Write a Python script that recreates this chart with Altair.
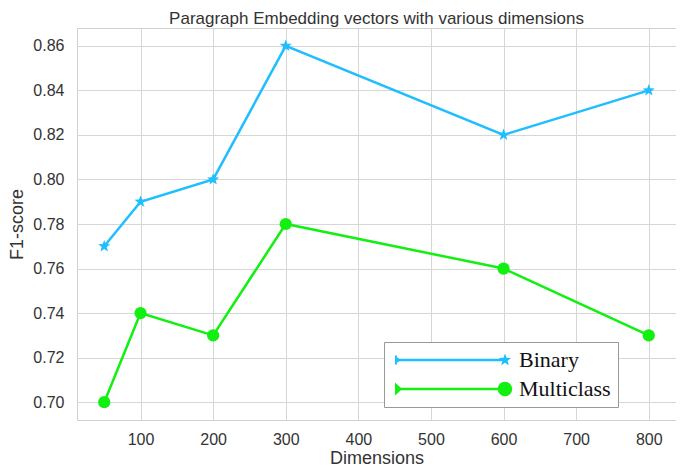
import math
import altair as alt
import pandas as pd

dims = [50, 100, 200, 300, 600, 800]
binary = [0.77, 0.79, 0.80, 0.86, 0.82, 0.84]
multiclass = [0.70, 0.74, 0.73, 0.78, 0.76, 0.73]
series_names = ["Binary", "Multiclass"]
colors = ["#1EBEFF", "#11F011"]
x_ticks = [100, 200, 300, 400, 500, 600, 700, 800]
y_ticks = [0.70, 0.72, 0.74, 0.76, 0.78, 0.80, 0.82, 0.84, 0.86]

rows = []
for d, b, m in zip(dims, binary, multiclass):
    rows.append({"dim": d, "f1": b, "series": "Binary"})
    rows.append({"dim": d, "f1": m, "series": "Multiclass"})
df = pd.DataFrame(rows)


def star(cx=0.0, r=1.0, inner=0.42):
    pts = []
    for i in range(10):
        ang = -math.pi / 2 + i * math.pi / 5
        rr = r if i % 2 == 0 else r * inner
        pts.append((cx + rr * math.cos(ang), rr * math.sin(ang)))
    return "M" + " L".join(f"{x:.3f},{y:.3f}" for x, y in pts) + " Z"


def circle(cx, r):
    return (f"M{cx - r:.3f},0 A{r:.3f},{r:.3f} 0 1,1 {cx + r:.3f},0 "
            f"A{r:.3f},{r:.3f} 0 1,1 {cx - r:.3f},0 Z")


# legend glyph geometry, in units of 8 px (symbol size 256)
L0, L1, LH = -0.875, 12.875, 0.16
bar = f"M{L0},{-LH} L{L1 - 0.3},{-LH} L{L1 - 0.3},{LH} L{L0},{LH} Z"
leg_binary = (bar + f" M{L0},-0.55 L{L0 + 0.25},-0.55 L{L0 + 0.25},-0.3 L{L0 + 0.9},0 "
              f"L{L0 + 0.25},0.3 L{L0 + 0.25},0.55 L{L0},0.55 Z " + star(L1, 0.8))
leg_multi = (bar + f" M{L0},-0.8 L{L0 + 0.9},0 L{L0},0.8 Z " + circle(L1, 0.9))

x_scale = alt.Scale(domain=[12.5, 837.5], nice=False, zero=False)
y_scale = alt.Scale(domain=[0.692, 0.868], nice=False, zero=False)
color_scale = alt.Scale(domain=series_names, range=colors)

x_enc = alt.X("dim:Q", scale=x_scale,
              axis=alt.Axis(title="Dimensions", values=x_ticks, format="d",
                            titleY=43, titleBaseline="alphabetic"))
y_enc = alt.Y("f1:Q", scale=y_scale,
              axis=alt.Axis(title="F1-score", values=y_ticks, format=".2f",
                            titleX=-55, titleBaseline="alphabetic"))

base = alt.Chart(df)
b_data = base.transform_filter(alt.datum.series == "Binary")
m_data = base.transform_filter(alt.datum.series == "Multiclass")

b_line = b_data.mark_line(strokeWidth=2.5, color=colors[0]).encode(x=x_enc, y=y_enc)
m_line = m_data.mark_line(strokeWidth=2.5, color=colors[1]).encode(x=x_enc, y=y_enc)

stars = b_data.mark_point(
    filled=True, opacity=1, shape=star(), size=160, color=colors[0]
).encode(x=x_enc, y=y_enc)

dots = m_data.mark_point(
    filled=True, opacity=1, shape="circle", size=150, color=colors[1]
).encode(x=x_enc, y=y_enc)

leg_props = dict(
    title=None, orient="none", legendX=307, legendY=314,
    symbolOpacity=1, symbolSize=256, symbolStrokeWidth=0,
    labelFont="Liberation Serif", labelFontSize=22, labelColor="#111",
    labelOffset=106, rowPadding=7, padding=7,
    strokeColor="#999", fillColor="white",
)

legend_layer = base.mark_point(filled=True, opacity=0).encode(
    x=x_enc, y=y_enc,
    color=alt.Color("series:N", scale=color_scale, legend=alt.Legend(**leg_props)),
    shape=alt.Shape("series:N", scale=alt.Scale(domain=series_names,
                                               range=[leg_binary, leg_multi]),
                    legend=alt.Legend(**leg_props)),
)

chart = alt.layer(b_line, m_line, stars, dots, legend_layer).properties(
    width=599, height=392,
    title=alt.Title("Paragraph Embedding vectors with various dimensions",
                    font="Liberation Sans", fontSize=17, fontWeight="normal",
                    color="#333", offset=0),
    autosize=alt.AutoSizeParams(type="none"),
    padding={"left": 69, "top": 20, "right": 0, "bottom": 46},
).configure_view(stroke="#d0d0d0", strokeWidth=1).configure_axis(
    grid=True, gridColor="#d6d6d6", gridWidth=1, ticks=False, domain=False,
    labelFont="Liberation Sans", labelFontSize=16, labelColor="#333",
    titleFont="Liberation Sans", titleFontSize=18, titleFontWeight="normal",
    titleColor="#333",
).configure_axisY(labelPadding=13).configure_axisX(labelPadding=11)

chart.save("out.html", embed_options={"renderer": "svg", "actions": False})
